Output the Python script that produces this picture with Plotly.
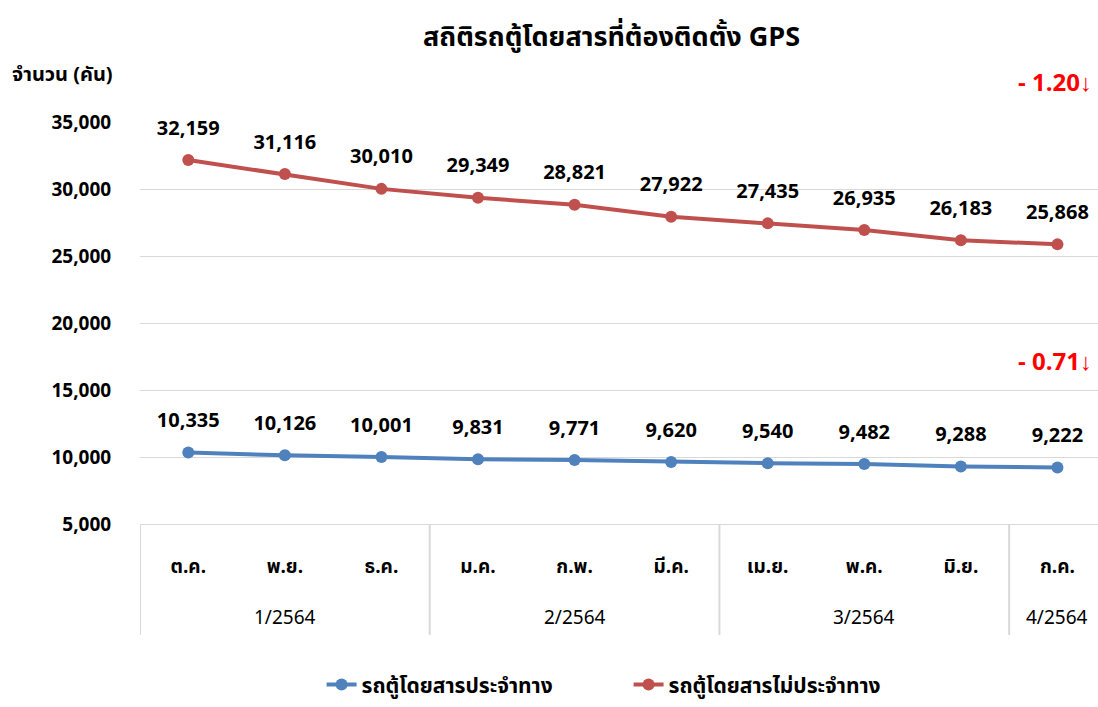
import plotly.graph_objects as go

quarters = ['1/2564', '1/2564', '1/2564', '2/2564', '2/2564', '2/2564',
            '3/2564', '3/2564', '3/2564', '4/2564']
months = ['ต.ค.', 'พ.ย.', 'ธ.ค.', 'ม.ค.', 'ก.พ.', 'มี.ค.',
          'เม.ย.', 'พ.ค.', 'มิ.ย.', 'ก.ค.']
fixed_route = [10335, 10126, 10001, 9831, 9771, 9620, 9540, 9482, 9288, 9222]
non_fixed_route = [32159, 31116, 30010, 29349, 28821, 27922, 27435, 26935, 26183, 25868]
change_labels = ['- 1.20', '- 0.71']

font_family = "Tahoma, 'Noto Sans Thai', 'Noto Sans', sans-serif"
blue = '#4F81BD'
red = '#C0504D'
grid = '#D9D9D9'

fig = go.Figure()

series = [('รถตู้โดยสารประจำทาง', fixed_route, blue),
          ('รถตู้โดยสารไม่ประจำทาง', non_fixed_route, red)]
for name, values, color in series:
    fig.add_trace(go.Scatter(
        x=months, y=values, name=name, mode='lines+markers',
        line=dict(color=color, width=4),
        marker=dict(color=color, size=12),
    ))
    # value labels, lifted by an invisible larger marker
    fig.add_trace(go.Scatter(
        x=months, y=values, mode='markers+text', showlegend=False, hoverinfo='skip',
        text=[f'{v:,}' for v in values], textposition='top center', cliponaxis=False,
        textfont=dict(size=20, color='black', family=font_family, weight='bold'),
        marker=dict(size=31, opacity=0),
    ))

# quarter labels and dividers under the month labels
groups = []
for i, q in enumerate(quarters):
    if not groups or groups[-1][0] != q:
        groups.append([q, i, i])
    else:
        groups[-1][2] = i
for q, first, last in groups:
    fig.add_annotation(x=(first + last) / 2, xref='x', y=-0.234, yref='paper',
                       text=q, showarrow=False, yanchor='middle',
                       font=dict(size=19, color='black', family=font_family))
    fig.add_shape(type='line', xref='x', yref='paper', x0=first - 0.5, x1=first - 0.5,
                  y0=0, y1=-0.276, line=dict(color=grid, width=2))
fig.add_shape(type='line', xref='x', yref='paper', x0=len(months) - 0.5, x1=len(months) - 0.5,
              y0=0, y1=-0.276, line=dict(color=grid, width=2))

for label, values, shift in zip(change_labels, [non_fixed_route, fixed_route], [160, 104]):
    fig.add_annotation(
        x=1, xref='paper', y=values[-1], yref='y', yshift=shift,
        text=f'{label}<b>↓</b>', showarrow=False, xanchor='right', xshift=-4,
        font=dict(size=24, color='#FF0000', family=font_family, weight='bold'),
    )

fig.add_annotation(
    xref='paper', yref='paper', x=-0.136, y=1.117, xanchor='left', yanchor='middle',
    text='จำนวน (คัน)', showarrow=False,
    font=dict(size=20, color='black', family=font_family, weight='bold'),
)

fig.update_layout(
    width=1098, height=707,
    margin=dict(l=140, r=0, t=122, b=183),
    paper_bgcolor='white', plot_bgcolor='white',
    font=dict(family=font_family, size=16, color='black'),
    title=dict(text='สถิติรถตู้โดยสารที่ต้องติดตั้ง GPS', x=0.557, xanchor='center',
               y=0.948, yanchor='middle',
               font=dict(size=27, color='black', weight='bold')),
    showlegend=True,
    legend=dict(orientation='h', x=0.51, xanchor='center', y=-0.40, yanchor='middle',
                font=dict(size=21, color='black', weight='bold'),
                entrywidth=262, entrywidthmode='pixels'),
)

fig.update_yaxes(range=[5000, 35000], dtick=5000, tickformat=',',
                 showgrid=True, gridcolor=grid, gridwidth=1,
                 zeroline=False, showline=False, ticks='outside', ticklen=24,
                 tickcolor='white', automargin=False,
                 tickfont=dict(size=19, color='black', family=font_family, weight='bold'))
fig.update_xaxes(type='category', range=[-0.5, 9.42], automargin=False,
                 tickvals=months, ticktext=[f'<br>{m}' for m in months],
                 showline=True, linecolor=grid, linewidth=1,
                 showgrid=False, ticks='',
                 tickfont=dict(size=19, color='black', family=font_family, weight='bold'))

# drop the page's default body margin so the figure fills the window exactly
fig.write_html('out.html', config={'displayModeBar': False},
               post_script="document.body.style.margin='0';")
